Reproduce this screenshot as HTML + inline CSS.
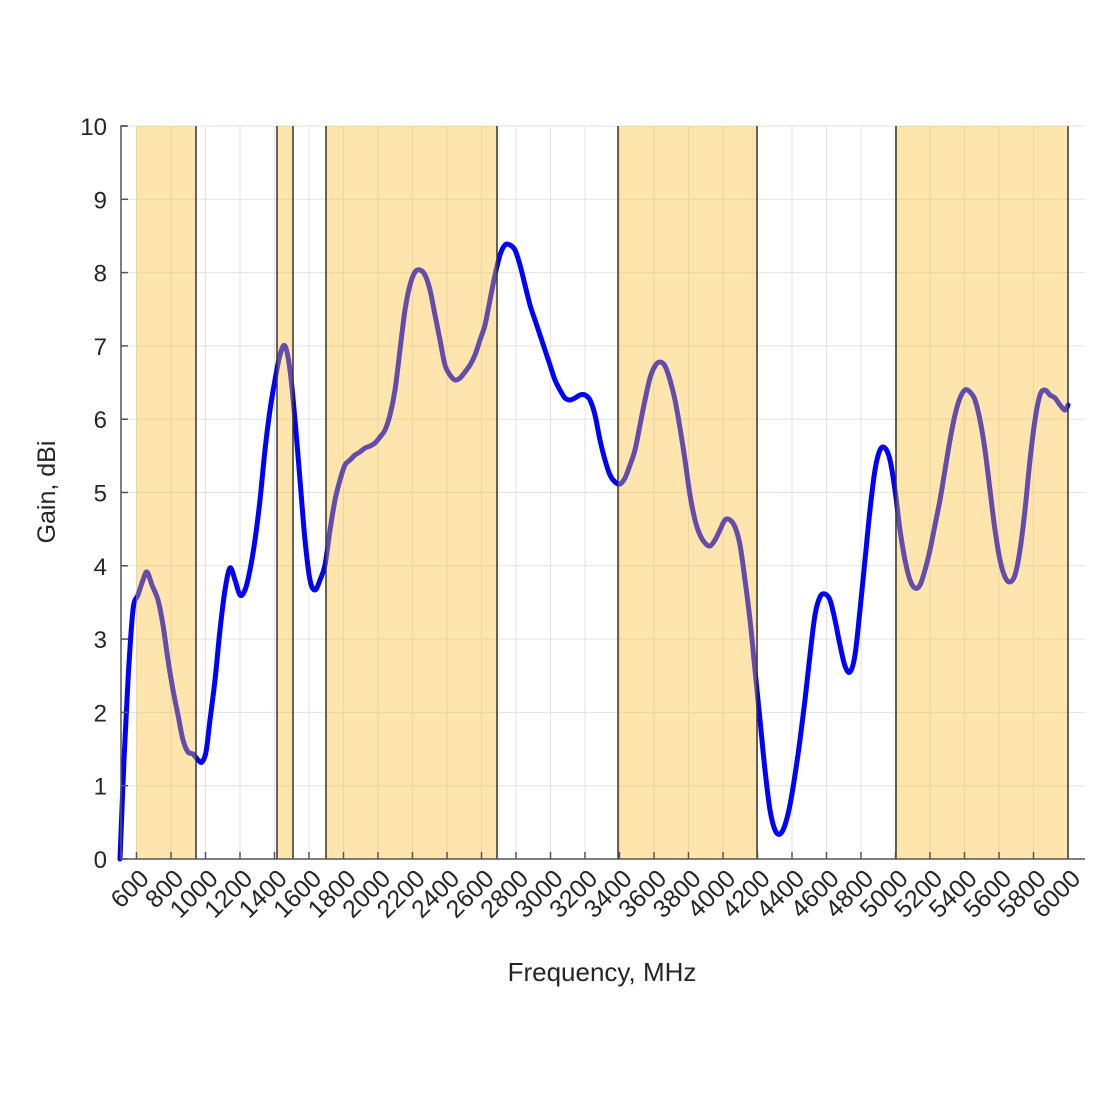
<!DOCTYPE html>
<html><head><meta charset="utf-8"><style>body{margin:0;background:#fff}svg{display:block}text{font-family:"Liberation Sans",sans-serif;fill:#262626}</style></head>
<body>
<svg width="1100" height="1100" viewBox="0 0 1100 1100">
<g id="grid" stroke="#e3e3e3" stroke-width="1"></g>
<path id="curve" fill="none" stroke="#0000ff" stroke-width="5" stroke-linejoin="round" stroke-linecap="round"/>
<g id="bands" fill="rgba(250,190,50,0.4)"></g>
<g id="vl" stroke="#333" stroke-width="1.5"></g>
<g id="ax" stroke="#555" stroke-width="1.5" fill="none"></g>
<g id="lbl" font-size="24"></g>
<g id="xl" font-size="25"></g>
<text x="602" y="981" font-size="26" text-anchor="middle">Frequency, MHz</text>
<text transform="translate(55,492) rotate(-90)" font-size="25" text-anchor="middle">Gain, dBi</text>
</svg>
<script>
const ns="http://www.w3.org/2000/svg";
function el(t,a,p,txt){const e=document.createElementNS(ns,t);for(const k in a)e.setAttribute(k,a[k]);if(txt!=null)e.textContent=txt;document.getElementById(p).appendChild(e);return e;}
const X=f=>136.5+(f-600)*0.1725, Y=v=>859-v*73.3;
for(let f=600;f<=6000;f+=200){el('line',{x1:X(f),x2:X(f),y1:126,y2:859},'grid');}
for(let v=1;v<=10;v++){el('line',{x1:121,x2:1085,y1:Y(v),y2:Y(v)},'grid');}
const pts=[[120,859],[124,760],[128,680],[133,610],[138,595],[143,580],[147,572],[152,585],[158,600],[163,625],[168,660],[173,690],[178,715],[183,740],[188,752],[193,754],[198,760],[202,762],[206,752],[210,720],[215,680],[220,630],[225,590],[230,568],[235,580],[240,595],[245,590],[250,570],[255,540],[260,500],[265,450],[270,410],[275,380],[280,355],[285,346],[290,370],[295,420],[300,480],[305,540],[310,580],[315,590],[320,580],[325,565],[330,530],[335,500],[340,480],[345,465],[350,460],[355,455],[360,452],[365,448],[370,446],[375,443],[380,437],[385,430],[390,415],[395,390],[400,350],[405,310],[410,285],[415,272],[420,270],[425,275],[430,290],[435,315],[440,340],[445,365],[450,375],[455,380],[460,378],[465,372],[470,365],[475,355],[480,340],[485,325],[490,300],[495,275],[500,255],[505,245],[510,245],[515,250],[520,265],[525,285],[530,305],[535,320],[540,335],[545,350],[550,365],[555,380],[560,390],[565,398],[570,400],[575,398],[580,395],[585,395],[590,400],[595,415],[600,440],[605,460],[610,475],[615,482],[620,484],[625,478],[630,465],[635,450],[640,425],[645,400],[650,378],[655,366],[660,362],[665,366],[670,380],[675,400],[680,428],[685,460],[690,495],[695,520],[700,535],[705,543],[710,546],[715,540],[720,530],[725,520],[730,520],[735,527],[740,545],[745,580],[750,620],[755,670],[760,720],[765,770],[770,810],[775,830],[780,834],[785,825],[790,805],[795,775],[800,740],[805,700],[810,655],[815,615],[820,597],[825,594],[830,600],[835,620],[840,645],[845,666],[850,672],[855,655],[860,610],[865,560],[870,510],[875,470],[880,450],[885,448],[890,460],[895,490],[900,530],[905,560],[910,580],[915,588],[920,585],[925,570],[930,550],[935,525],[940,500],[945,470],[950,440],[955,415],[960,398],[965,390],[970,392],[975,400],[980,420],[985,450],[990,490],[995,530],[1000,560],[1005,577],[1010,582],[1015,575],[1020,550],[1025,510],[1030,460],[1035,420],[1040,395],[1045,390],[1050,395],[1055,398],[1060,405],[1065,410],[1068,405]];
let d='M'+pts[0].join(',');
for(let i=0;i<pts.length-1;i++){const p0=pts[Math.max(0,i-1)],p1=pts[i],p2=pts[i+1],p3=pts[Math.min(pts.length-1,i+2)];
d+=` C${p1[0]+(p2[0]-p0[0])/6},${p1[1]+(p2[1]-p0[1])/6} ${p2[0]-(p3[0]-p1[0])/6},${p2[1]-(p3[1]-p1[1])/6} ${p2[0]},${p2[1]}`;}
document.getElementById('curve').setAttribute('d',d);
[[136,196],[277,293],[326,497],[618,757],[896,1068]].forEach(b=>el('rect',{x:b[0],y:126,width:b[1]-b[0],height:733},'bands'));
[196,277,293,326,497,618,757,896,1068].forEach(x=>el('line',{x1:x,x2:x,y1:126,y2:859},'vl'));
el('path',{d:'M127,126 H121 V859 H1085'},'ax');
for(let v=0;v<=10;v++){el('line',{x1:121,x2:128,y1:Y(v),y2:Y(v)},'ax');el('text',{x:107,y:Y(v)+9,'text-anchor':'end'},'lbl',String(v));}
for(let f=600;f<=6000;f+=200){const x=X(f);el('line',{x1:x,x2:x,y1:859,y2:852},'ax');el('text',{transform:`translate(${x+14},${880}) rotate(-45)`,'text-anchor':'end'},'xl',String(f));}
</script>
</body></html>
